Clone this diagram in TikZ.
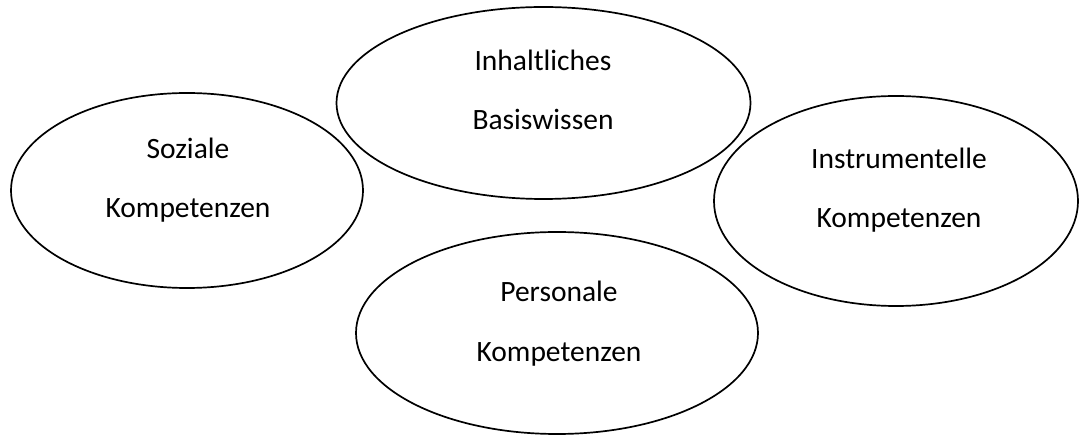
\documentclass[tikz,border=0pt]{standalone}
\usepackage{fontspec}
\setmainfont{Carlito}
\usetikzlibrary{shapes.geometric}
\tikzset{
  oval/.style={draw=black, line width=1.7pt, ellipse, inner sep=0pt},
  lbl/.style={anchor=base, inner sep=0pt, font=\fontsize{29.5}{34}\selectfont}
}
\begin{document}
\begin{tikzpicture}[x=1pt,y=-1pt]
\useasboundingbox (0,0) rectangle (1079,435);
\node[oval, minimum width=414pt, minimum height=192pt] (top) at (543.5,103) {};
\node[oval, minimum width=352pt, minimum height=195pt] (left) at (187,190.5) {};
\node[oval, minimum width=364pt, minimum height=210pt] (right) at (896,201) {};
\node[oval, minimum width=402pt, minimum height=202pt] (bottom) at (557,333) {};
\node[lbl] (t1) at (543,71) {Inhaltliches};
\node[lbl] (t2) at (543,130) {Basiswissen};
\node[lbl] (l1) at (188,159) {Soziale};
\node[lbl] (l2) at (188,218) {Kompetenzen};
\node[lbl] (r1) at (899,169) {Instrumentelle};
\node[lbl] (r2) at (899,228) {Kompetenzen};
\node[lbl] (b1) at (559,302) {Personale};
\node[lbl] (b2) at (559,362) {Kompetenzen};
\end{tikzpicture}
\end{document}
